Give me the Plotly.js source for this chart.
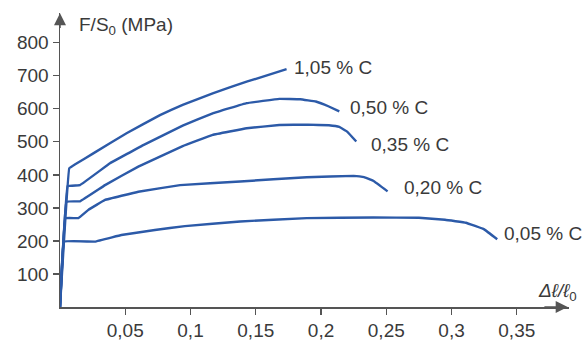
<!DOCTYPE html>
<html>
<head>
<meta charset="utf-8">
<script src="https://cdn.plot.ly/plotly-3.0.1.min.js"></script>
<style>html,body{margin:0;padding:0;background:#fff;}</style>
</head>
<body>
<div id="chart" style="width:585px;height:351px;"></div>
<script>
// Strain (Δℓ/ℓ0) and stress (MPa)
const strain_105 = [0, 0.0071, 0.012, 0.0255, 0.051, 0.0766, 0.094, 0.117, 0.143, 0.1736];
const stress_105 = [0, 420, 433, 465, 526, 581, 612, 647, 682, 720];

const strain_050 = [0, 0.0058, 0.0153, 0.0383, 0.0638, 0.094, 0.117, 0.143, 0.168, 0.184, 0.196, 0.206, 0.214];
const stress_050 = [0, 366, 369, 435, 490, 549, 586, 617, 630, 629, 622, 607, 592];

const strain_035 = [0, 0.0049, 0.0153, 0.0345, 0.06, 0.094, 0.117, 0.143, 0.168, 0.19, 0.206, 0.214, 0.22, 0.227];
const stress_035 = [0, 319, 320, 369, 425, 487, 521, 541, 551, 552, 550, 545, 531, 501];

const strain_020 = [0, 0.0041, 0.014, 0.0217, 0.0345, 0.06, 0.092, 0.138, 0.189, 0.225, 0.233, 0.24, 0.251];
const stress_020 = [0, 269, 269, 294, 324, 349, 369, 380, 393, 397, 393, 382, 350];

const strain_005 = [0, 0.003, 0.0268, 0.047, 0.0727, 0.0957, 0.138, 0.189, 0.24, 0.275, 0.295, 0.311, 0.325, 0.335];
const stress_005 = [0, 198, 198, 218, 233, 245, 259, 269, 271, 270, 264, 255, 235, 205];

const seriesLabels = ["1,05 % C", "0,50 % C", "0,35 % C", "0,20 % C", "0,05 % C"];
const labelX = [0.178, 0.2205, 0.237, 0.262, 0.339];
const labelY = [724, 603, 491, 363, 224];

const xTickVals = [0.05, 0.1, 0.15, 0.2, 0.25, 0.3, 0.35];
const xTickText = ["0,05", "0,1", "0,15", "0,2", "0,25", "0,3", "0,35"];
const yTickVals = [100, 200, 300, 400, 500, 600, 700, 800];
const yTickText = ["100", "200", "300", "400", "500", "600", "700", "800"];

const lineColor = '#2c5aa8';
const textColor = '#3a3a3a';
const axisColor = '#555555';
const fontFam = '"Liberation Sans", Arial, sans-serif';
const fs = 19;

const xs = [strain_105, strain_050, strain_035, strain_020, strain_005];
const ys = [stress_105, stress_050, stress_035, stress_020, stress_005];

const traces = xs.map((x, i) => ({
  x: x, y: ys[i], mode: 'lines', type: 'scatter',
  line: {color: lineColor, width: 2.4, shape: 'spline', smoothing: 0.15},
  hoverinfo: 'skip', showlegend: false
}));

const annotations = seriesLabels.map((t, i) => ({
  x: labelX[i], y: labelY[i], xref: 'x', yref: 'y', text: t, showarrow: false,
  xanchor: 'left', yanchor: 'middle', font: {family: fontFam, size: fs, color: textColor}
}));

// axis arrows
annotations.push({x: 0.389, y: 0, ax: 0.37, ay: 0, xref: 'x', yref: 'y', axref: 'x', ayref: 'y',
  text: '', showarrow: true, arrowhead: 2, arrowsize: 1.6, arrowwidth: 1.5, arrowcolor: axisColor});
annotations.push({x: 0, y: 889, ax: 0, ay: 840, xref: 'x', yref: 'y', axref: 'x', ayref: 'y',
  text: '', showarrow: true, arrowhead: 2, arrowsize: 1.6, arrowwidth: 1.5, arrowcolor: axisColor});

// axis titles
annotations.push({x: 0.013, y: 850, xref: 'x', yref: 'y', text: 'F/S<sub>0</sub> (MPa)', showarrow: false,
  xanchor: 'left', yanchor: 'middle', font: {family: fontFam, size: fs, color: textColor}});
annotations.push({x: 0.365, y: 45, xref: 'x', yref: 'y', text: '<i>Δℓ/ℓ</i><sub>0</sub>', showarrow: false,
  xanchor: 'left', yanchor: 'middle', font: {family: fontFam, size: fs, color: textColor}});

const layout = {
  width: 585, height: 351,
  margin: {l: 60, r: 16, t: 13, b: 44},
  paper_bgcolor: '#ffffff', plot_bgcolor: '#ffffff',
  xaxis: {
    range: [0, 0.39], showgrid: false, zeroline: false,
    showline: true, linecolor: axisColor, linewidth: 1.5,
    ticks: 'outside', ticklen: 6, tickwidth: 1.3, tickcolor: axisColor,
    tickvals: xTickVals, ticktext: xTickText,
    tickfont: {family: fontFam, size: fs, color: textColor}
  },
  yaxis: {
    range: [0, 890], showgrid: false, zeroline: false,
    showline: true, linecolor: axisColor, linewidth: 1.5,
    ticks: 'outside', ticklen: 6, tickwidth: 1.3, tickcolor: axisColor,
    tickvals: yTickVals, ticktext: yTickText,
    tickfont: {family: fontFam, size: fs, color: textColor}
  },
  annotations: annotations
};

Plotly.newPlot('chart', traces, layout, {staticPlot: true, displayModeBar: false});
</script>
</body>
</html>
